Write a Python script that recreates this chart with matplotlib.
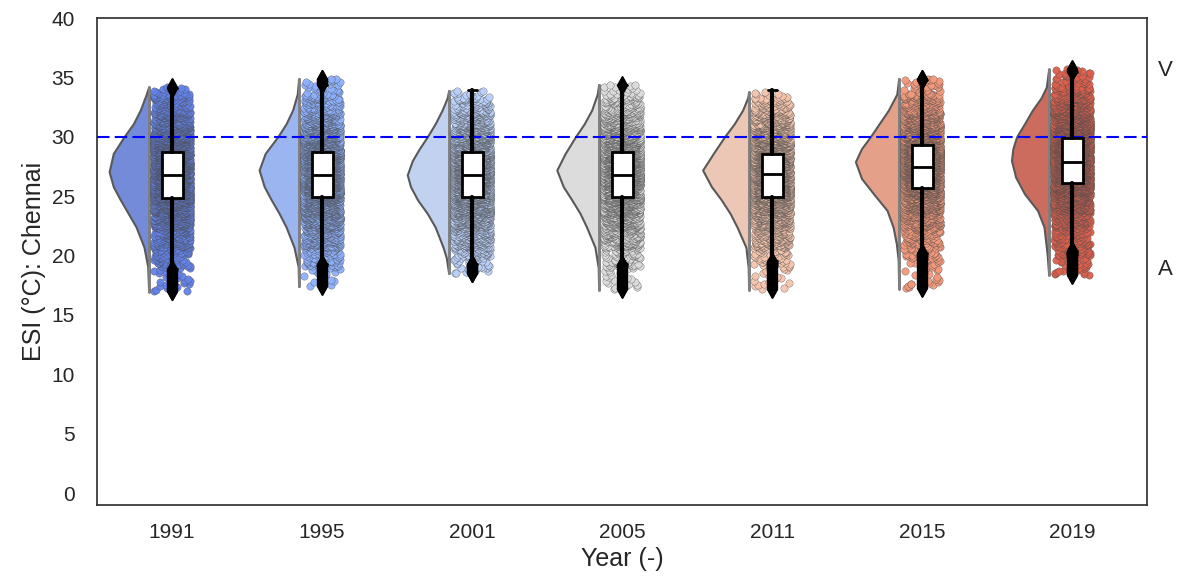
import numpy as np
import matplotlib.pyplot as plt
import seaborn as sns

sns.set_style("white")
plt.rcParams['font.family'] = ['Liberation Sans', 'DejaVu Sans']

# --- data ---
years = ['1991', '1995', '2001', '2005', '2011', '2015', '2019']

# box statistics (°C)
q1 = [24.81, 24.95, 24.95, 24.95, 24.95, 25.66, 26.08]
med = [26.78, 26.78, 26.78, 26.78, 26.86, 27.48, 27.85]
q3 = [28.74, 28.74, 28.74, 28.74, 28.55, 29.30, 29.87]
whislo = [18.90, 19.25, 19.26, 19.26, 19.50, 20.20, 20.40]
whishi = [34.08, 34.40, 33.94, 34.36, 33.94, 34.78, 35.50]

# half-violin profiles: ESI level and relative density
lev_1991 = [16.95, 19.06, 20.7, 22.4, 23.55, 24.7, 25.8, 27.06, 28.6, 30.0, 31.1, 32.25, 33.6, 34.2]
den_1991 = [0.01, 0.03, 0.11, 0.28, 0.45, 0.62, 0.77, 0.86, 0.77, 0.54, 0.34, 0.19, 0.06, 0.01]
lev_1995 = [17.4, 19.06, 20.7, 22.4, 23.55, 24.7, 25.8, 27.2, 28.6, 30.0, 31.1, 32.25, 33.6, 34.9]
den_1995 = [0.01, 0.02, 0.11, 0.28, 0.43, 0.60, 0.75, 0.86, 0.73, 0.46, 0.28, 0.14, 0.04, 0.01]
lev_2001 = [18.5, 19.8, 20.7, 22.4, 23.55, 24.7, 25.8, 26.8, 28.0, 29.0, 30.0, 31.1, 32.25, 33.3, 33.9]
den_2001 = [0.01, 0.06, 0.13, 0.30, 0.47, 0.68, 0.83, 0.90, 0.79, 0.64, 0.47, 0.30, 0.15, 0.04, 0.01]
lev_2005 = [17.1, 19.0, 20.7, 22.4, 23.55, 24.7, 25.8, 27.2, 28.6, 30.0, 31.1, 32.25, 33.6, 34.4]
den_2005 = [0.01, 0.02, 0.09, 0.27, 0.41, 0.59, 0.77, 0.91, 0.73, 0.51, 0.32, 0.16, 0.04, 0.01]
lev_2011 = [17.1, 19.0, 20.7, 22.4, 23.55, 24.7, 25.8, 27.2, 28.6, 30.0, 31.1, 32.25, 33.3, 33.8]
den_2011 = [0.01, 0.02, 0.07, 0.26, 0.41, 0.60, 0.81, 1.00, 0.77, 0.53, 0.32, 0.14, 0.03, 0.01]
lev_2015 = [17.2, 19.6, 21.0, 22.4, 23.8, 25.2, 26.5, 27.9, 29.0, 30.0, 31.1, 32.25, 33.6, 34.9]
den_2015 = [0.01, 0.02, 0.06, 0.13, 0.26, 0.55, 0.81, 0.94, 0.81, 0.62, 0.43, 0.23, 0.05, 0.01]
lev_2019 = [18.36, 20.0, 22.4, 23.8, 25.2, 26.6, 28.0, 29.0, 30.0, 31.1, 32.25, 33.3, 34.2, 35.7]
den_2019 = [0.01, 0.04, 0.11, 0.25, 0.53, 0.72, 0.81, 0.78, 0.70, 0.53, 0.36, 0.17, 0.06, 0.01]

levels = [lev_1991, lev_1995, lev_2001, lev_2005, lev_2011, lev_2015, lev_2019]
dens = [den_1991, den_1995, den_2001, den_2005, den_2011, den_2015, den_2019]

threshold = 30.0
n_pts = 5000

colors = sns.color_palette("coolwarm", len(years))

fig, ax = plt.subplots(figsize=(11.85, 5.83), dpi=100)
fig.subplots_adjust(left=0.0819, right=0.968, top=0.969, bottom=0.134)

stats = []
for i, yr in enumerate(years):
    lv = np.array(levels[i])
    dn = np.array(dens[i])
    c = colors[i]
    # half violin (cloud), seaborn-style desaturated fill
    edge = i - 0.153
    ax.fill_betweenx(lv, edge - 0.31 * dn, edge, facecolor=sns.desaturate(c, 0.75),
                     edgecolor='0.35', linewidth=1.5, zorder=1)
    ax.plot([edge, edge], [lv[0], lv[-1]], color='0.5', lw=2, zorder=1.5)

    # rain: points placed at quantiles of the read profile
    cdf = np.concatenate([[0], np.cumsum(np.diff(lv) * (dn[1:] + dn[:-1]) / 2)])
    cdf /= cdf[-1]
    q = (np.arange(n_pts) + 0.5) / n_pts
    pts = np.interp(q, cdf, lv)
    k = np.arange(n_pts)
    jit = (np.sin(k * 12.9898 + i * 78.233) * 43758.5453) % 1.0
    ax.scatter(i - 0.122 + 0.244 * jit, pts, s=28, color=c,
               edgecolor='0.3', linewidth=0.25, alpha=0.95, zorder=2)

    fl = pts[(pts < whislo[i]) | (pts > whishi[i])]
    stats.append(dict(med=med[i], q1=q1[i], q3=q3[i],
                      whislo=whislo[i], whishi=whishi[i], fliers=fl))

ax.axhline(threshold, color='blue', linestyle=(0, (6, 2.5)), linewidth=1.5, zorder=3)

ax.bxp(stats, positions=range(len(years)), widths=0.14, capwidths=0.06,
       patch_artist=True, manage_ticks=False,
       boxprops=dict(facecolor='white', edgecolor='black', linewidth=2, zorder=4),
       medianprops=dict(color='black', linewidth=2, zorder=5),
       whiskerprops=dict(color='black', linewidth=3, zorder=4),
       capprops=dict(color='black', linewidth=2, zorder=4),
       flierprops=dict(marker='d', markerfacecolor='black',
                       markeredgecolor='black', markersize=9, zorder=4))

ax.set_xlim(-0.5, len(years) - 0.5)
ax.set_ylim(-1, 40)
ax.set_xticks(range(len(years)))
ax.set_xticklabels(years)
ax.set_yticks(range(0, 41, 5))
ax.tick_params(axis='both', labelsize=15, length=0, colors='0.15')
ax.tick_params(axis='y', pad=16)
ax.tick_params(axis='x', pad=13)
ax.set_xlabel("Year (-)", fontsize=18, color='0.15')
ax.set_ylabel("ESI (°C): Chennai", fontsize=18, color='0.15')
for s in ax.spines.values():
    s.set_color('0.2')
    s.set_linewidth(1.25)

trans = ax.get_yaxis_transform()
ax.text(1.01, 35.6, "V", transform=trans, fontsize=16, color='0.15', va='center')
ax.text(1.01, 18.8, "A", transform=trans, fontsize=16, color='0.15', va='center')

fig.savefig("out.png", dpi=100)
